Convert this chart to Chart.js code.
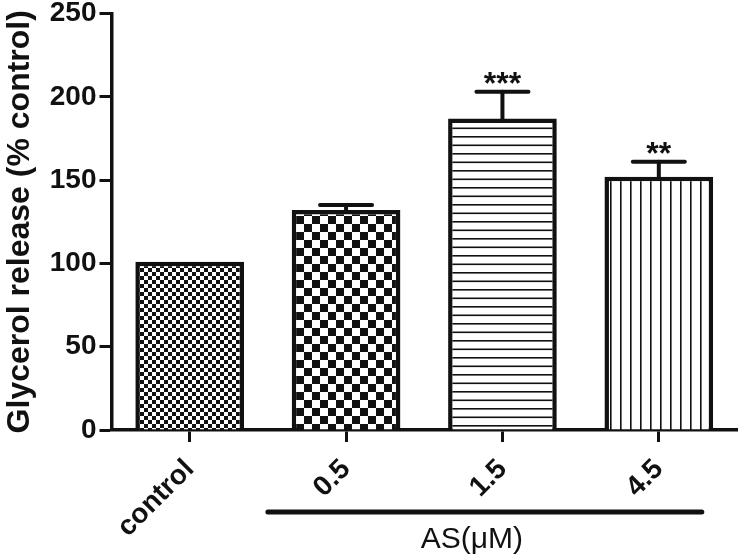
<!DOCTYPE html>
<html><head><meta charset="utf-8">
<script src="https://cdn.jsdelivr.net/npm/chart.js@4.4.0/dist/chart.umd.min.js"></script>
<style>html,body{margin:0;padding:0;background:#fff;} #wrap{width:740px;height:560px;}</style>
</head><body><div id="wrap"><canvas id="c" width="740" height="560"></canvas></div>
<script>
const categories = ['control', '0.5', '1.5', '4.5'];
const glycerol = [101, 132, 187, 152];
const sem = [0, 3, 16, 9];
const significance = ['', '', '***', '**'];
const yTicks = [0, 50, 100, 150, 200, 250];
const groupLabel = 'AS(\u03BCM)';
const yTitle = 'Glycerol release (% control)';
const patternTypes = ['fineChecker', 'coarseChecker', 'hLines', 'vLines'];

const FONT = '"Liberation Sans", Arial, sans-serif';

function makePattern(type) {
  const c = document.createElement('canvas');
  const g = c.getContext('2d');
  let w = 8, h = 8;
  if (type === 'fineChecker') { w = 8; h = 8; }
  if (type === 'coarseChecker') { w = 16; h = 16; }
  if (type === 'hLines') { w = 8; h = 17; }
  if (type === 'vLines') { w = 10; h = 8; }
  c.width = w; c.height = h;
  g.fillStyle = '#fff'; g.fillRect(0, 0, w, h);
  g.fillStyle = '#111';
  if (type === 'fineChecker') { g.fillRect(0, 0, 4, 4); g.fillRect(4, 4, 4, 4); }
  if (type === 'coarseChecker') { g.fillRect(0, 0, 8, 8); g.fillRect(8, 8, 8, 8); }
  if (type === 'hLines') { g.fillRect(0, 0, w, 1.6); g.fillRect(0, 8.5, w, 1.6); }
  if (type === 'vLines') { g.fillRect(0, 0, 1.6, h); }
  return g.createPattern(c, 'repeat');
}

const annotate = {
  id: 'annotate',
  afterDatasetsDraw(chart) {
    const ctx = chart.ctx;
    const x = chart.scales.x, y = chart.scales.y;
    ctx.save();
    ctx.strokeStyle = '#111';
    ctx.fillStyle = '#111';
    ctx.lineCap = 'round';
    glycerol.forEach((v, i) => {
      const cx = x.getPixelForValue(i);
      if (sem[i] > 0) {
        const yTop = y.getPixelForValue(v + sem[i]);
        const yBase = y.getPixelForValue(v);
        ctx.lineWidth = 4;
        ctx.beginPath();
        ctx.moveTo(cx, yBase + 2); ctx.lineTo(cx, yTop);
        ctx.stroke();
        ctx.beginPath();
        ctx.moveTo(cx - 26, yTop); ctx.lineTo(cx + 26, yTop);
        ctx.stroke();
      }
      if (significance[i]) {
        ctx.font = 'bold 32px ' + FONT;
        ctx.textAlign = 'center';
        ctx.textBaseline = 'alphabetic';
        ctx.fillText(significance[i], cx, y.getPixelForValue(v + sem[i]) + 2);
      }
    });
    // group bracket under the AS doses
    const cat = x.getPixelForValue(1) - x.getPixelForValue(0);
    const x1 = x.getPixelForValue(1) - 0.5 * cat;
    const x2 = x.getPixelForValue(3) + 0.275 * cat;
    const ly = x.bottom - 48;
    ctx.lineWidth = 5;
    ctx.beginPath(); ctx.moveTo(x1, ly); ctx.lineTo(x2, ly); ctx.stroke();
    ctx.font = '30px ' + FONT;
    ctx.textAlign = 'center';
    ctx.textBaseline = 'middle';
    ctx.fillText(groupLabel, (x1 + x2) / 2 - 13, ly + 28);
    ctx.restore();
  }
};

new Chart(document.getElementById('c'), {
  type: 'bar',
  data: {
    labels: categories,
    datasets: [{
      data: glycerol,
      backgroundColor: patternTypes.map(makePattern),
      borderColor: '#111',
      borderWidth: 4.5,
      borderSkipped: 'start',
      barPercentage: 0.695,
      categoryPercentage: 1.0
    }]
  },
  options: {
    responsive: false,
    animation: false,
    layout: { padding: { top: 13.5, right: 3, left: 0, bottom: 0 } },
    plugins: { legend: { display: false }, tooltip: { enabled: false } },
    scales: {
      x: {
        offset: true,
        grid: { display: true, drawOnChartArea: false, drawTicks: true, tickLength: 12, tickWidth: 3, tickColor: '#111', offset: false },
        border: { display: true, color: '#111', width: 3.5 },
        ticks: {
          color: '#111', font: { family: FONT, size: 28, weight: 'bold' },
          minRotation: 45, maxRotation: 45, padding: 11
        },
        afterFit(s) { s.height = 130; s.paddingLeft = 0; s.paddingRight = 0; }
      },
      y: {
        min: 0, max: 250,
        afterBuildTicks(s) { s.ticks = yTicks.map(v => ({ value: v })); },
        grid: { display: true, drawOnChartArea: false, drawTicks: true, tickLength: 12, tickWidth: 3, tickColor: '#111' },
        border: { display: true, color: '#111', width: 3.5 },
        ticks: { color: '#111', font: { family: FONT, size: 28, weight: 'bold' }, padding: 3 },
        title: { display: true, text: yTitle, color: '#111', font: { family: FONT, size: 32, weight: 'bold' }, padding: { top: 1, bottom: 0 } },
        afterFit(s) { s.width = 111.5; s.paddingTop = 0; s.paddingBottom = 0; }
      }
    }
  },
  plugins: [annotate]
});
</script>
</body></html>
